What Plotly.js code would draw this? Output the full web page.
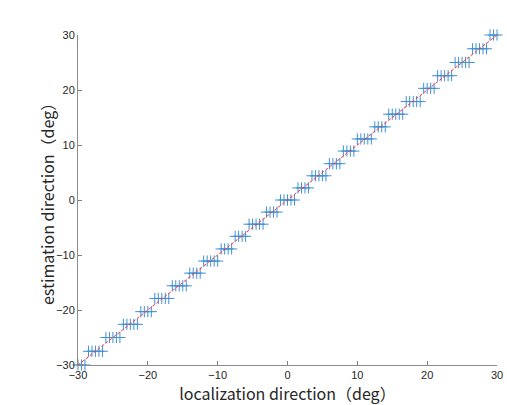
<!DOCTYPE html>
<html>
<head>
<meta charset="utf-8">
<script src="https://cdn.plot.ly/plotly-3.0.1.min.js"></script>
<style>html,body{margin:0;padding:0;background:#fff;}#chart{width:507px;height:405px;}</style>
</head>
<body>
<div id="chart"></div>
<script>
// localization direction (deg), 0.5 deg steps
const locX = [-30,-29.5,-29,-28.5,-28,-27.5,-27,-26.5,-26,-25.5,-25,-24.5,-24,-23.5,-23,-22.5,-22,-21.5,-21,-20.5,-20,-19.5,-19,-18.5,-18,-17.5,-17,-16.5,-16,-15.5,-15,-14.5,-14,-13.5,-13,-12.5,-12,-11.5,-11,-10.5,-10,-9.5,-9,-8.5,-8,-7.5,-7,-6.5,-6,-5.5,-5,-4.5,-4,-3.5,-3,-2.5,-2,-1.5,-1,-0.5,0,0.5,1,1.5,2,2.5,3,3.5,4,4.5,5,5.5,6,6.5,7,7.5,8,8.5,9,9.5,10,10.5,11,11.5,12,12.5,13,13.5,14,14.5,15,15.5,16,16.5,17,17.5,18,18.5,19,19.5,20,20.5,21,21.5,22,22.5,23,23.5,24,24.5,25,25.5,26,26.5,27,27.5,28,28.5,29,29.5,30];
// estimation direction (deg)
const estY = [-30,-30,-30,-27.5,-27.5,-27.5,-27.5,-27.5,-25,-25,-25,-25,-25,-22.6,-22.6,-22.6,-22.6,-22.6,-20.3,-20.3,-20.3,-20.3,-17.9,-17.9,-17.9,-17.9,-17.9,-15.6,-15.6,-15.6,-15.6,-15.6,-13.3,-13.3,-13.3,-13.3,-11.1,-11.1,-11.1,-11.1,-11.1,-8.9,-8.9,-8.9,-8.9,-6.6,-6.6,-6.6,-6.6,-4.4,-4.4,-4.4,-4.4,-4.4,-2.2,-2.2,-2.2,-2.2,0,0,0,0,0,2.2,2.2,2.2,2.2,4.4,4.4,4.4,4.4,4.4,6.6,6.6,6.6,6.6,8.9,8.9,8.9,8.9,11.1,11.1,11.1,11.1,11.1,13.3,13.3,13.3,13.3,15.6,15.6,15.6,15.6,15.6,17.9,17.9,17.9,17.9,17.9,20.3,20.3,20.3,20.3,22.6,22.6,22.6,22.6,22.6,25,25,25,25,25,27.5,27.5,27.5,27.5,27.5,30,30,30];
// ideal line
const lineX = [-30, 30];
const lineY = [-30, 30];
const tickVals = [-30,-20,-10,0,10,20,30];
const xTitle = 'localization direction（deg）';
const yTitle = 'estimation direction（deg）';

const traces = [
  {x: locX, y: estY, type: 'scatter', mode: 'markers', cliponaxis: false,
   marker: {symbol: 'cross-thin-open', size: 8, color: '#4090d4', line: {color: '#4090d4', width: 1}},
   showlegend: false},
  {x: lineX, y: lineY, type: 'scatter', mode: 'lines', cliponaxis: false,
   line: {color: '#ff3030', width: 1, dash: '3px,2px'}, showlegend: false}
];

const axisCommon = {
  range: [-30, 30], tickvals: tickVals, ticks: 'inside', ticklen: 4, tickcolor: '#808080',
  showline: true, linecolor: '#8c8c8c', linewidth: 1, showgrid: false, zeroline: false,
  tickfont: {family: 'Liberation Sans, Arial, sans-serif', size: 11, color: '#262626'}
};
const titleFont = {family: 'Noto Sans CJK JP, sans-serif', size: 16, color: '#262626'};

const layout = {
  width: 507, height: 405,
  margin: {l: 78, r: 10, t: 35, b: 40},
  paper_bgcolor: '#ffffff', plot_bgcolor: '#ffffff',
  xaxis: Object.assign({}, axisCommon, {
    title: {text: xTitle, standoff: 4, font: titleFont}
  }),
  yaxis: Object.assign({}, axisCommon),
  annotations: [{
    text: yTitle, xref: 'paper', yref: 'paper', x: -0.074, y: 0.5,
    xanchor: 'center', yanchor: 'middle', textangle: -90, showarrow: false,
    font: titleFont
  }]
};

Plotly.newPlot('chart', traces, layout, {displayModeBar: false, staticPlot: true});
</script>
</body>
</html>
